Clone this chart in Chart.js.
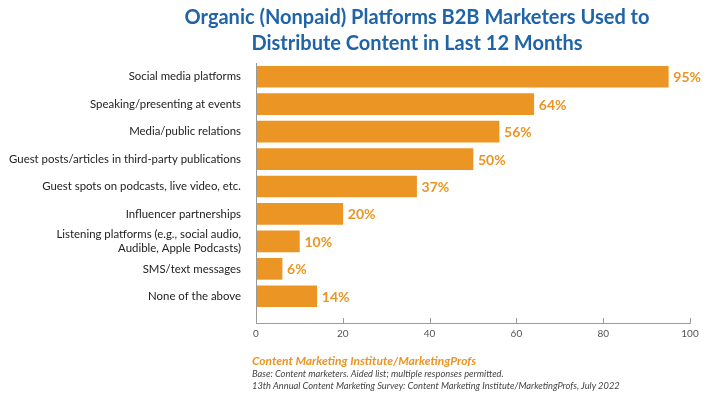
<!DOCTYPE html>
<html>
<head>
<meta charset="utf-8">
<script src="https://cdn.jsdelivr.net/npm/chart.js@4/dist/chart.umd.min.js"></script>
<style>
  html, body { margin: 0; padding: 0; background: #fff; }
  #wrap { position: relative; width: 720px; height: 399px; overflow: hidden; }
  #c { position: absolute; left: 0; top: 0; }
  #title { position: absolute; left: 150px; top: 3px; width: 534px; text-align: center;
    font-family: Lato, sans-serif; font-weight: 700; font-size: 20px; line-height: 26px; color: #1F63A8; }
  #foot { position: absolute; left: 252px; top: 353px; font-family: Lato, sans-serif; font-style: italic; }
  #foot .src { color: #EA9524; font-weight: 700; font-size: 12px; line-height: 15px; }
  #foot .note { color: #444; font-size: 9.3px; line-height: 12px; }
</style>
</head>
<body>
<div id="wrap">
  <canvas id="c" width="720" height="399"></canvas>
  <div id="title">Organic (Nonpaid) Platforms B2B Marketers Used to<br>Distribute Content in Last 12 Months</div>
  <div id="foot">
    <div class="src">Content Marketing Institute/MarketingProfs</div>
    <div class="note">Base: Content marketers. Aided list; multiple responses permitted.</div>
    <div class="note">13th Annual Content Marketing Survey: Content Marketing Institute/MarketingProfs, July 2022</div>
  </div>
</div>
<script>
const categories = [
  "Social media platforms",
  "Speaking/presenting at events",
  "Media/public relations",
  "Guest posts/articles in third-party publications",
  "Guest spots on podcasts, live video, etc.",
  "Influencer partnerships",
  ["Listening platforms (e.g., social audio,", "Audible, Apple Podcasts)"],
  "SMS/text messages",
  "None of the above"
];
const values = [95, 64, 56, 50, 37, 20, 10, 6, 14];
const xTickValues = [0, 20, 40, 60, 80, 100];

const ORANGE = '#EA9524';
const AXIS = '#9a9a9a';
const AXIS_DROP = 13;

const axisPlugin = {
  id: 'axisPlugin',
  afterDraw(chart) {
    const ctx = chart.ctx, ca = chart.chartArea, xs = chart.scales.x;
    const y0 = ca.bottom + AXIS_DROP;
    ctx.save();
    ctx.strokeStyle = AXIS;
    ctx.lineWidth = 1;
    ctx.beginPath();
    const x0 = Math.round(xs.getPixelForValue(0)) + 0.5;
    ctx.moveTo(x0, ca.top);
    ctx.lineTo(x0, y0 + 0.5);
    ctx.lineTo(Math.round(xs.getPixelForValue(100)) + 0.5, y0 + 0.5);
    xTickValues.forEach(v => {
      const px = Math.round(xs.getPixelForValue(v)) + 0.5;
      ctx.moveTo(px, y0 + 0.5);
      ctx.lineTo(px, y0 - 5);
    });
    ctx.stroke();
    ctx.restore();
  }
};

const valuePlugin = {
  id: 'valuePlugin',
  afterDatasetsDraw(chart) {
    const ctx = chart.ctx;
    const meta = chart.getDatasetMeta(0);
    ctx.save();
    ctx.fillStyle = ORANGE;
    ctx.font = 'bold 14px Lato, sans-serif';
    ctx.textBaseline = 'middle';
    ctx.textAlign = 'left';
    meta.data.forEach((bar, i) => {
      ctx.fillText(values[i] + '%', bar.x + 5, bar.y + 1);
    });
    ctx.restore();
  }
};

new Chart(document.getElementById('c'), {
  type: 'bar',
  data: {
    labels: categories,
    datasets: [{ data: values, backgroundColor: ORANGE, borderWidth: 0, barThickness: 21 }]
  },
  options: {
    indexAxis: 'y',
    responsive: false,
    animation: false,
    layout: { padding: { top: 63, right: 30, left: 0, bottom: 0 } },
    plugins: { legend: { display: false }, tooltip: { enabled: false } },
    scales: {
      x: {
        min: 0, max: 100,
        afterBuildTicks(scale) { scale.ticks = xTickValues.map(v => ({ value: v })); },
        afterFit(scale) { scale.height = 89; },
        grid: { display: false, drawTicks: false },
        border: { display: false },
        ticks: { padding: 18, color: '#555', font: { family: 'Lato, sans-serif', size: 10 } }
      },
      y: {
        afterFit(scale) { scale.width = 256; },
        grid: { display: false, drawTicks: false },
        border: { display: false },
        ticks: { autoSkip: false, padding: 15, color: '#222', font: { family: 'Lato, sans-serif', size: 11.4, lineHeight: 1.25 } }
      }
    }
  },
  plugins: [axisPlugin, valuePlugin]
});
</script>
</body>
</html>
